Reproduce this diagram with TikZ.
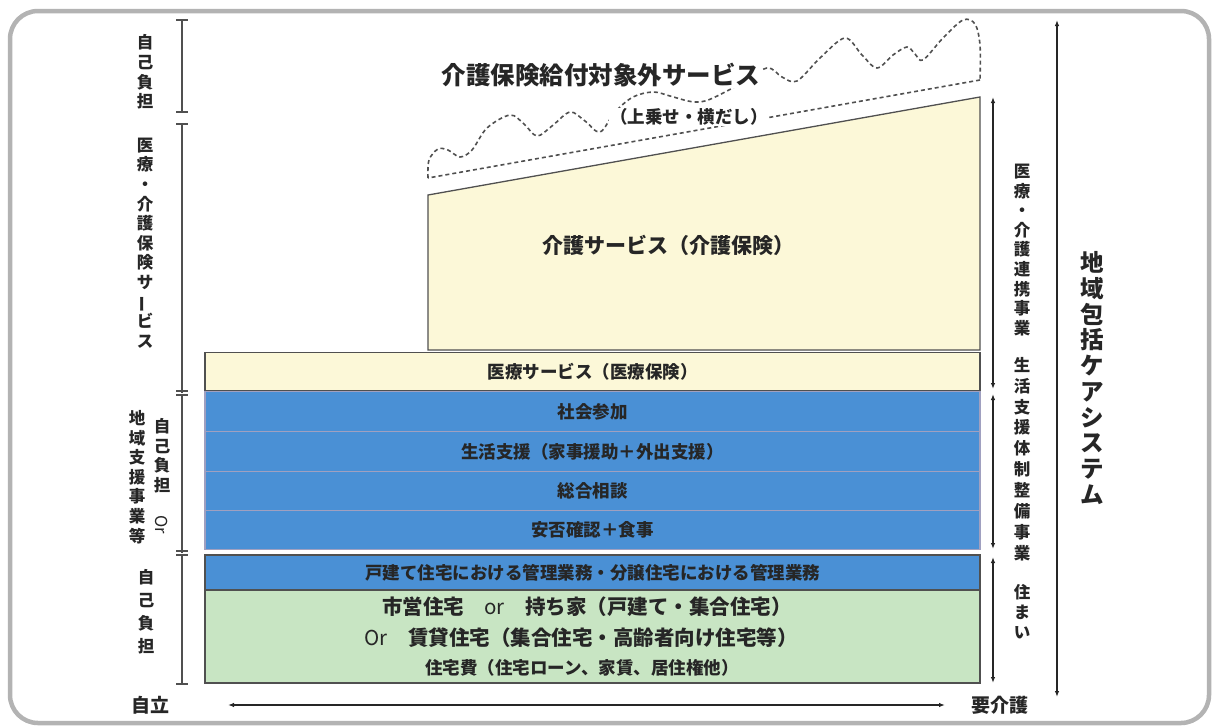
\documentclass[tikz,border=0pt]{standalone}
\usepackage{fontspec}
\setmainfont{Noto Sans CJK JP}
\usepackage{graphicx}
\usetikzlibrary{arrows.meta}
\definecolor{cream}{HTML}{FCF8D8}
\definecolor{bluerow}{HTML}{4A90D5}
\definecolor{greenrow}{HTML}{C8E5C3}
\definecolor{framegray}{HTML}{B3B3B3}
\definecolor{edgegray}{HTML}{505050}
\definecolor{sepline}{HTML}{A0A0C0}
\definecolor{ink}{HTML}{262626}
\newcommand\vbar{\rotatebox[origin=c]{90}{ー}}
\newcommand\vOr{\rotatebox[origin=c]{-90}{\mdseries Or}}
\tikzset{
  dimline/.style={draw=edgegray, line width=1.1pt},
  spanarrow/.style={draw=ink, line width=1.2pt, <->, >={Latex[length=6pt,width=4.5pt]}},
  vlabel/.style={font=\bfseries\fontsize{16.5}{19.6}\selectfont, text=ink, align=center, inner sep=0pt},
  rowbox/.style={minimum width=775pt, inner sep=0pt, text=ink, font=\bfseries\fontsize{17.5}{20}\selectfont},
  bluebox/.style={rowbox, fill=bluerow, draw=sepline, line width=1.5pt},
  creambox/.style={rowbox, fill=cream, draw=edgegray, line width=1.3pt},
  greenbox/.style={rowbox, fill=greenrow, draw=edgegray, line width=1.3pt},
  dashedwave/.style={draw=edgegray, line width=1.6pt, dash pattern=on 4pt off 3pt},
  plainlabel/.style={inner sep=0pt, text=ink, font=\bfseries\fontsize{19}{22}\selectfont}
}
\begin{document}
\begin{tikzpicture}[x=1pt,y=-1pt]
\useasboundingbox (0,0) rectangle (1213,726);
% outer frame
\draw[framegray, line width=4.5pt, rounded corners=28pt] (10,11) rectangle (1209,723);

% non-covered services (dashed cloud)
\draw[dashedwave] plot[smooth, tension=0.55] coordinates {(428,178) (429,160) (438,149) (448,150) (460,157) (472,150) (487,128) (510,115) (524,124) (537,136) (552,126) (570,112) (585,121) (600,132) (615,112) (633,97) (653,92) (670,96) (688,101) (700,102) (713,98) (740,84) (767,68) (782,77) (797,81) (820,58) (845,38) (862,55) (877,68) (893,55) (907,47) (915,54) (923,60) (943,38) (963,20) (975,24) (980,45) (980,80)};
\draw[dashedwave] (980,80) -- (428,178);
\node[inner sep=1pt, fill=white, text=ink, font=\bfseries\fontsize{24.5}{28}\selectfont] (title) at (601,75) {介護保険給付対象外サービス};
\node[inner sep=1pt, fill=white, text=ink, font=\bfseries\fontsize{17.5}{20}\selectfont] (subtitle) at (689,117) {（上乗せ・横だし）};

% care service (slanted box)
\filldraw[fill=cream, draw=edgegray, line width=1.3pt] (428,350) -- (428,195) -- (980,97) -- (980,350) -- cycle;
\node[inner sep=0pt, text=ink, font=\bfseries\fontsize{21}{24}\selectfont] (kaigo) at (668,245) {介護サービス（介護保険）};

% rows
\node[creambox, minimum height=38pt] (iryo) at (592.5,371.5) {医療サービス（医療保険）};
\node[bluebox, minimum height=40pt] (r1) at (592.5,411.5) {社会参加};
\node[bluebox, minimum height=40pt] (r2) at (592.5,451.5) {生活支援（家事援助＋外出支援）};
\node[bluebox, minimum height=39pt] (r3) at (592.5,491) {総合相談};
\node[bluebox, minimum height=39pt] (r4) at (592.5,530) {安否確認＋食事};
\node[rowbox, fill=bluerow, draw=edgegray, line width=1.3pt, minimum height=35pt] (kanri) at (592.5,572.5) {戸建て住宅における管理業務・分譲住宅における管理業務};
\node[greenbox, minimum height=93pt] (house) at (592.5,636.5) {};
\node[inner sep=0pt, text=ink, font=\bfseries\fontsize{20.5}{24}\selectfont] (h1) at (587,607) {市営住宅　{\mdseries or}　持ち家（戸建て・集合住宅）};
\node[inner sep=0pt, text=ink, font=\bfseries\fontsize{20.5}{24}\selectfont] (h2) at (581,638) {{\mdseries Or}　賃貸住宅（集合住宅・高齢者向け住宅等）};
\node[inner sep=0pt, text=ink, font=\bfseries\fontsize{17.5}{20}\selectfont] (h3) at (582,668) {住宅費（住宅ローン、家賃、居住権他）};

% left bracket
\coordinate (b1t) at (182,20); \coordinate (b1b) at (182,112);
\coordinate (b2t) at (182,124); \coordinate (b2b) at (182,393);
\coordinate (b3t) at (182,395); \coordinate (b3b) at (182,553);
\coordinate (b4t) at (182,555); \coordinate (b4b) at (182,684);
\draw[dimline] (b1t) -- (b1b);
\draw[dimline] (b2t) -- (b2b);
\draw[dimline] (b3t) -- (b3b);
\draw[dimline] (b4t) -- (b4b);
\foreach \yy in {20,112,124,391,395,551,555,684}
  \draw[dimline] (176,\yy) -- (188,\yy);

% left labels
\node[vlabel] (L1) at (145,72) {自\\己\\負\\担};
\node[vlabel] (L2) at (145,243) {医\\療\\・\\介\\護\\保\\険\\サ\\\vbar\\ビ\\ス};
\node[vlabel] (L3a) at (162,476) {自\\己\\負\\担\\ \\\vOr};
\node[vlabel] (L3b) at (137,477) {地\\域\\支\\援\\事\\業\\等};
\node[vlabel, font=\bfseries\fontsize{16.5}{23}\selectfont] (L4) at (146,612) {自\\己\\負\\担};

% right span arrows
\coordinate (a1t) at (993,97);  \coordinate (a1b) at (993,389);
\coordinate (a2t) at (993,394); \coordinate (a2b) at (993,549);
\coordinate (a3t) at (993,557); \coordinate (a3b) at (993,683);
\draw[spanarrow] (a1t) -- (a1b);
\draw[spanarrow] (a2t) -- (a2b);
\draw[spanarrow] (a3t) -- (a3b);
\coordinate (sysT) at (1057,20); \coordinate (sysB) at (1057,697);
\draw[spanarrow] (sysT) -- (sysB);

% right labels
\node[vlabel] (R1) at (1022,250) {医\\療\\・\\介\\護\\連\\携\\事\\業};
\node[vlabel, font=\bfseries\fontsize{16.5}{20.9}\selectfont] (R2) at (1022,459) {生\\活\\支\\援\\体\\制\\整\\備\\事\\業};
\node[vlabel, font=\bfseries\fontsize{16.5}{20}\selectfont] (R3) at (1022,612) {住\\ま\\い};
\node[vlabel, font=\bfseries\fontsize{23.5}{25.7}\selectfont] (R4) at (1092,378) {地\\域\\包\\括\\ケ\\ア\\シ\\ス\\テ\\ム};

% bottom axis
\node[plainlabel] (jiritsu) at (150,705) {自立};
\node[plainlabel] (yokaigo) at (1000,705) {要介護};
\coordinate (axL) at (228,705); \coordinate (axR) at (945,705);
\draw[spanarrow] (axL) -- (axR);
\end{tikzpicture}
\end{document}
